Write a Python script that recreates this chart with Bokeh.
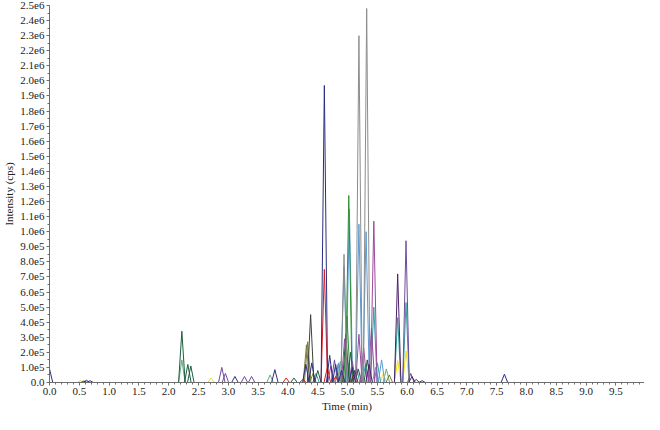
from bokeh.plotting import figure
from bokeh.models import FixedTicker, Range1d
from bokeh.embed import file_html
from bokeh.resources import INLINE

# ---------------- data ----------------
# Each trace: apex times (min) and apex intensities (cps)
navy_t = [0.0, 0.62, 0.68, 3.11, 3.78, 4.30, 4.40, 4.61, 4.70, 4.80, 4.90, 5.08, 6.15, 6.25, 7.63]
navy_h = [9.0e4, 1.5e4, 1.2e4, 4.0e4, 8.5e4, 1.2e5, 1.3e5, 1.97e6, 1.8e5, 1.2e5, 8.0e4, 1.0e5,
          2.0e4, 1.2e4, 5.5e4]

gray_t = [4.90, 4.94, 5.19, 5.32]
gray_h = [8.0e4, 8.5e5, 2.30e6, 2.48e6]

darkgray_t = [4.38, 5.12]
darkgray_h = [4.5e5, 8.0e4]

green_t = [4.99, 5.02]
green_h = [4.4e5, 1.24e6]

lightblue_t = [4.84, 4.94, 5.03, 5.19, 5.31, 5.47, 5.57]
lightblue_h = [1.2e5, 7.7e5, 1.15e6, 1.05e6, 1.0e6, 1.0e5, 1.5e5]

purple_t = [4.72, 4.95, 5.08, 5.19, 5.27, 5.40, 5.44]
purple_h = [1.1e5, 2.9e5, 1.4e5, 3.2e5, 2.3e5, 3.6e5, 1.07e6]

violet_t = [2.89, 2.95, 3.27, 3.39, 4.78, 5.98, 6.06]
violet_h = [1.0e5, 6.0e4, 4.0e4, 4.0e4, 1.5e5, 9.4e5, 6.0e4]

red_t = [3.97, 4.25, 4.61, 4.66, 4.80, 4.90, 5.10]
red_h = [3.0e4, 2.0e4, 7.5e5, 1.0e5, 4.0e4, 6.0e4, 5.0e4]

darkpurple_t = [5.36, 5.84, 6.08]
darkpurple_h = [1.2e5, 7.2e5, 4.0e4]

teal_t = [4.47, 4.85, 5.00, 5.15, 5.30, 5.44, 5.50, 5.84, 5.98]
teal_h = [6.0e4, 1.3e5, 1.5e5, 1.0e5, 1.2e5, 5.0e5, 1.3e5, 4.3e5, 5.3e5]

yellow_t = [0.52, 2.71, 5.10, 5.60, 5.84, 5.98]
yellow_h = [1.2e4, 3.0e4, 3.0e4, 6.0e4, 1.45e5, 2.1e5]

darkgreen_t = [0.58, 2.22, 2.32, 2.37, 4.10, 4.50, 4.97, 5.05, 5.18, 5.33]
darkgreen_h = [1.0e4, 3.4e5, 1.2e5, 1.1e5, 3.0e4, 8.0e4, 3.2e5, 2.0e5, 9.0e4, 1.5e5]

lightgreen_t = [2.22, 3.70, 4.88, 5.65]
lightgreen_h = [1.5e5, 5.0e4, 1.4e5, 9.0e4]

olive_t = [4.31, 4.33, 4.42, 5.70]
olive_h = [2.5e5, 2.7e5, 6.0e4, 5.0e4]

# axis ticks
x_ticks = [0.0, 0.5, 1.0, 1.5, 2.0, 2.5, 3.0, 3.5, 4.0, 4.5,
           5.0, 5.5, 6.0, 6.5, 7.0, 7.5, 8.0, 8.5, 9.0, 9.5]
x_labels = ["0.0", "0.5", "1.0", "1.5", "2.0", "2.5", "3.0", "3.5", "4.0", "4.5",
            "5.0", "5.5", "6.0", "6.5", "7.0", "7.5", "8.0", "8.5", "9.0", "9.5"]
y_ticks = [0, 100000, 200000, 300000, 400000, 500000, 600000, 700000, 800000, 900000,
           1000000, 1100000, 1200000, 1300000, 1400000, 1500000, 1600000, 1700000,
           1800000, 1900000, 2000000, 2100000, 2200000, 2300000, 2400000, 2500000]
y_labels = ["0.0", "1.0e5", "2.0e5", "3.0e5", "4.0e5", "5.0e5", "6.0e5", "7.0e5",
            "8.0e5", "9.0e5", "1.0e6", "1.1e6", "1.2e6", "1.3e6", "1.4e6", "1.5e6",
            "1.6e6", "1.7e6", "1.8e6", "1.9e6", "2.0e6", "2.1e6", "2.2e6", "2.3e6",
            "2.4e6", "2.5e6"]

# ---------------- styling ----------------
HW = 0.055          # half width of a peak base (min)
T_END = 10.0
FONT = "Liberation Serif"

traces = [
    (lightgreen_t, lightgreen_h, "#5FAF7F"),
    (yellow_t, yellow_h, "#F2E21B"),
    (olive_t, olive_h, "#7A7A35"),
    (teal_t, teal_h, "#33A0A0"),
    (lightblue_t, lightblue_h, "#5A9BD5"),
    (green_t, green_h, "#2F8F35"),
    (darkgreen_t, darkgreen_h, "#1E5E3E"),
    (purple_t, purple_h, "#9A4A9A"),
    (violet_t, violet_h, "#6E4C9E"),
    (red_t, red_h, "#E0191E"),
    (gray_t, gray_h, "#8C8C8C"),
    (darkgray_t, darkgray_h, "#3F3F3F"),
    (darkpurple_t, darkpurple_h, "#4B2368"),
    (navy_t, navy_h, "#2B2F7F"),
]

p = figure(width=644, height=414, output_backend="svg", toolbar_location=None,
           x_range=Range1d(0, 9.98), y_range=Range1d(0, 2.5e6),
           min_border_left=0, min_border_right=0, min_border_top=5, min_border_bottom=0)
p.grid.visible = False
p.outline_line_color = None
p.background_fill_color = "white"
p.border_fill_color = "white"

for ts, hs, col in traces:
    xs, ys = [0.0], [0.0]
    for t, h in sorted(zip(ts, hs)):
        xs += [max(t - HW, 0.0), t, t + HW]
        ys += [0.0, h, 0.0]
    xs.append(T_END)
    ys.append(0.0)
    p.line(xs, ys, line_color=col, line_width=1.0)

p.xaxis.ticker = FixedTicker(ticks=x_ticks,
                             minor_ticks=[i / 10 for i in range(0, 100)])
p.xaxis.major_label_overrides = dict(zip(x_ticks, x_labels))
p.yaxis.ticker = FixedTicker(ticks=y_ticks,
                             minor_ticks=[i * 50000 for i in range(0, 51)])
p.yaxis.major_label_overrides = dict(zip(y_ticks, y_labels))

p.xaxis.axis_label = "Time (min)"
p.yaxis.axis_label = "Intensity (cps)"
for ax in (p.xaxis, p.yaxis):
    ax.axis_label_text_font = FONT
    ax.axis_label_text_font_style = "normal"
    ax.axis_label_text_font_size = "11px"
    ax.axis_label_text_color = "#222222"
    ax.major_label_text_font = FONT
    ax.major_label_text_font_size = "11px"
    ax.major_label_text_color = "#222222"
    ax.axis_line_color = "#6E6E6E"
    ax.major_tick_line_color = "#6E6E6E"
    ax.minor_tick_line_color = "#6E6E6E"
    ax.major_tick_out = 3
    ax.major_tick_in = 0
    ax.minor_tick_out = 2
    ax.minor_tick_in = 0
    ax.major_label_standoff = 2
    ax.axis_label_standoff = 2

open("out.html", "w").write(file_html(p, INLINE))
